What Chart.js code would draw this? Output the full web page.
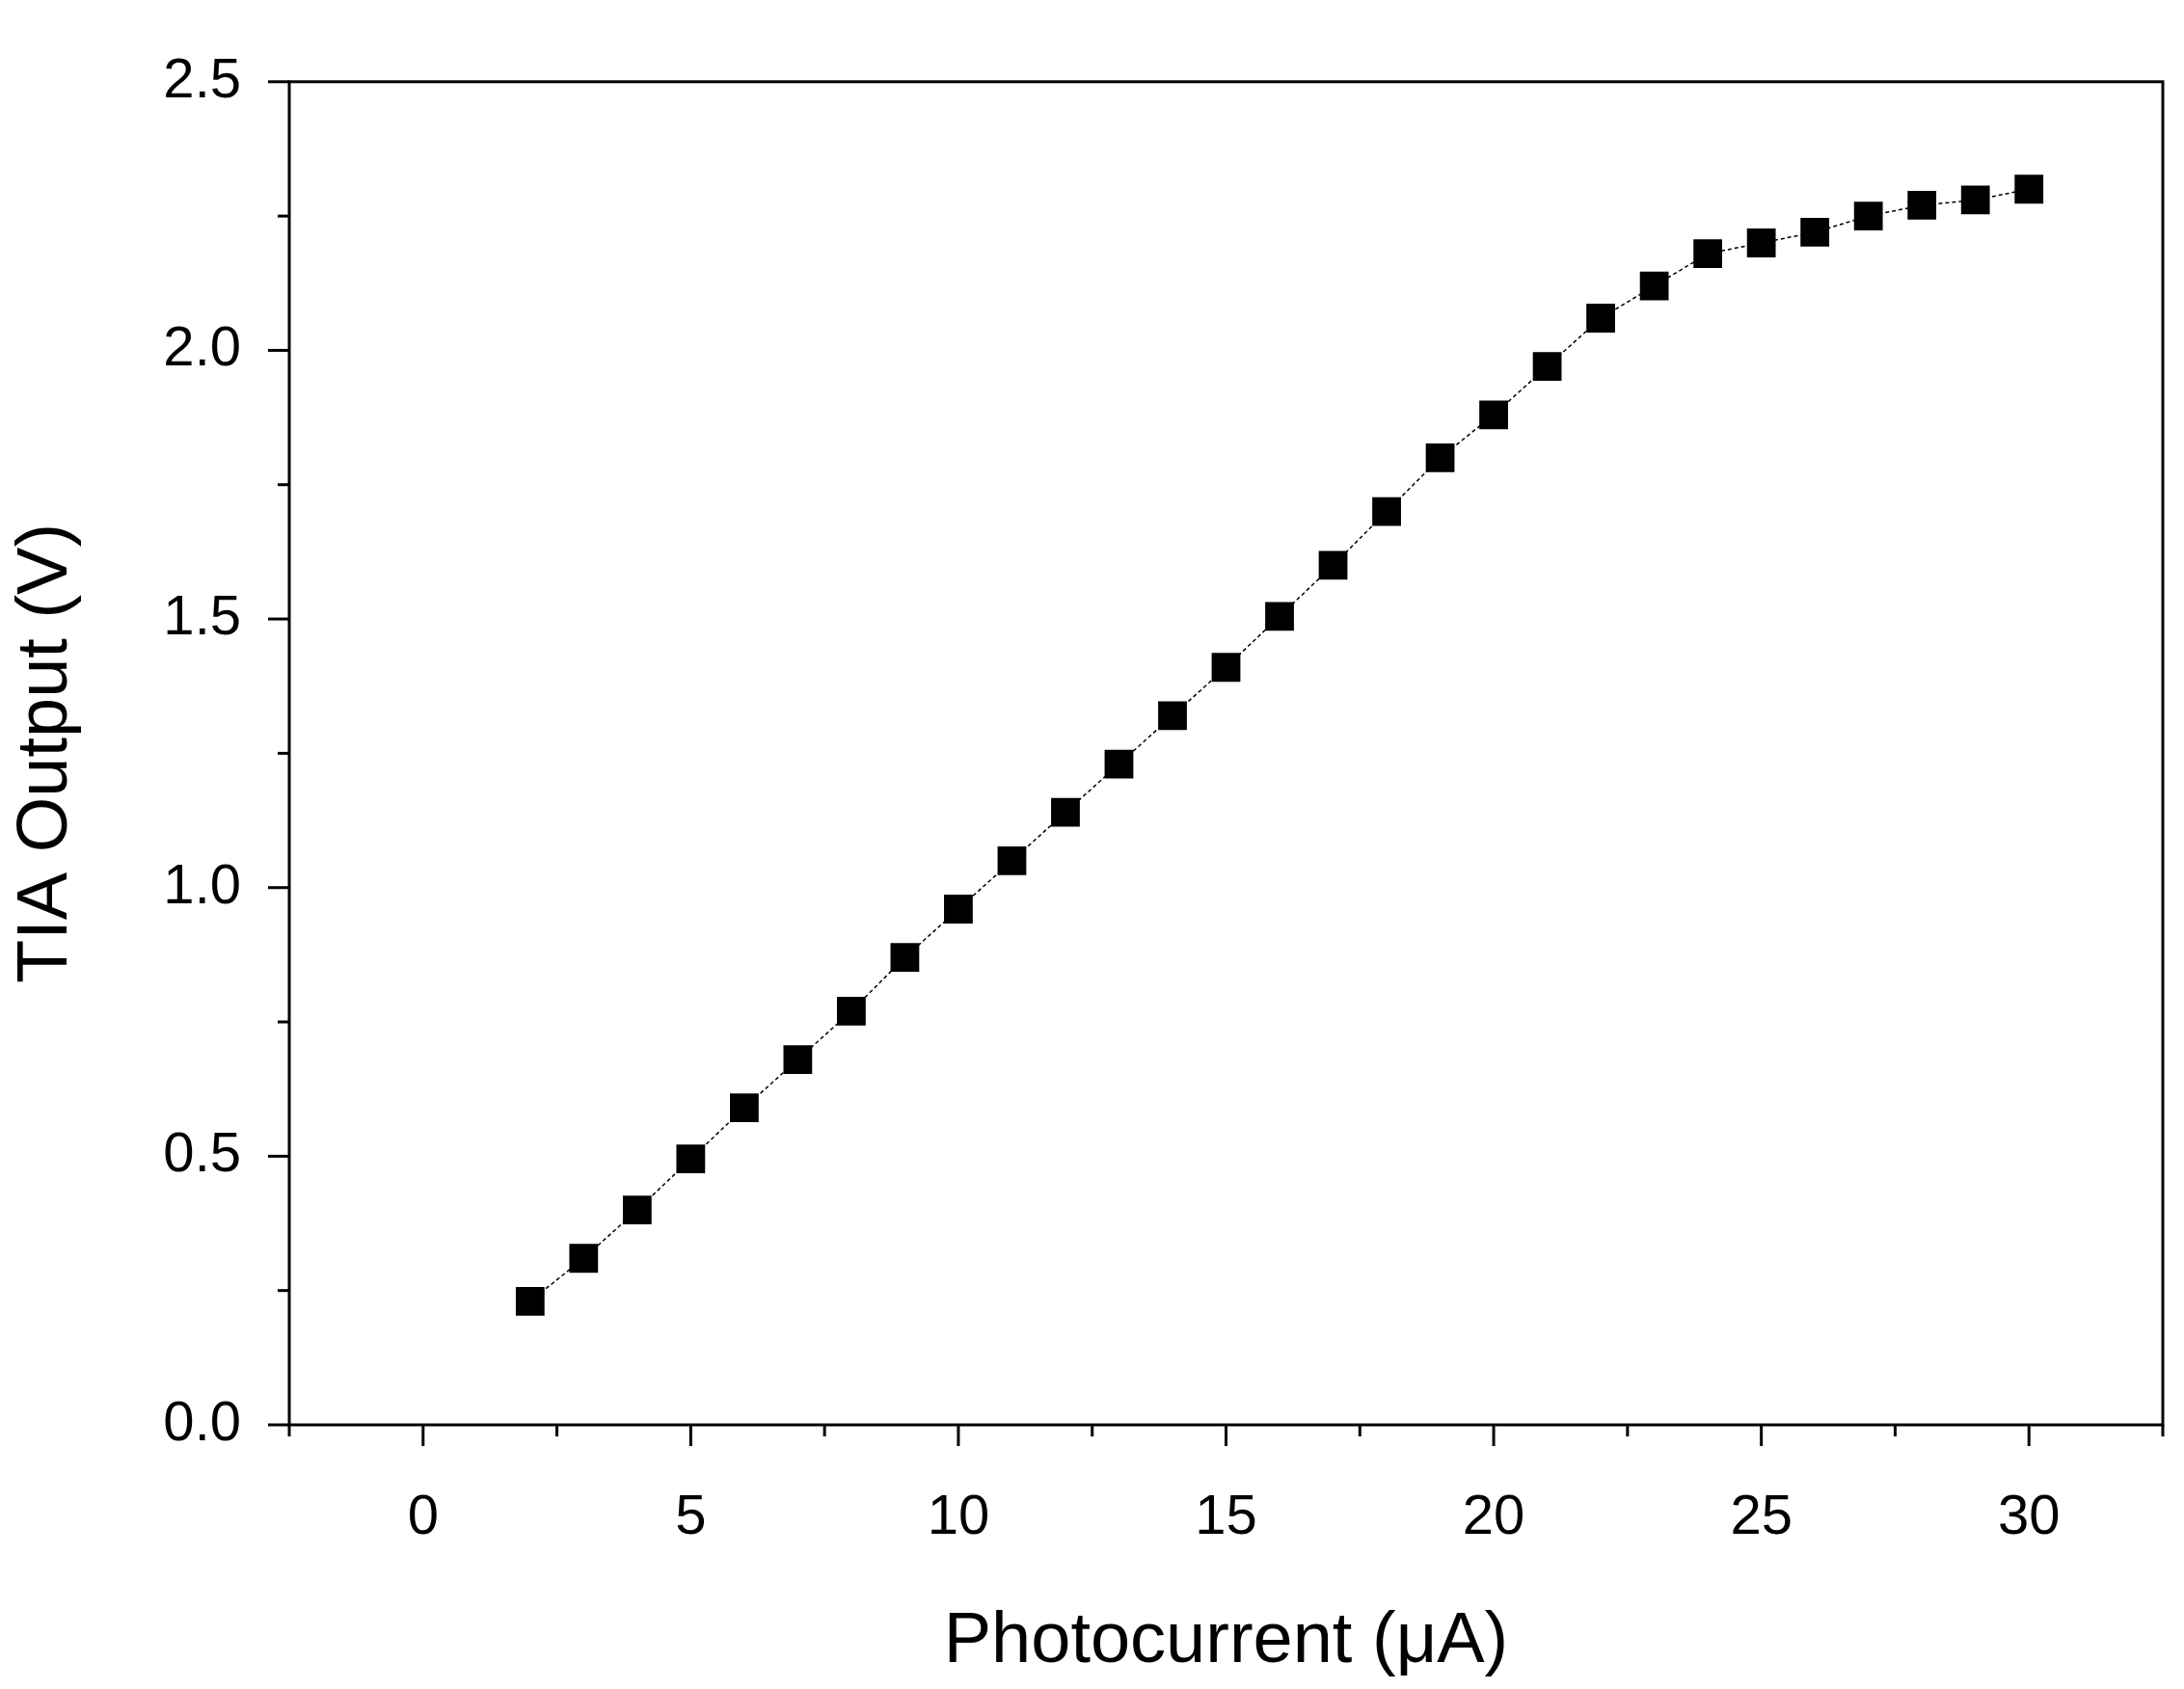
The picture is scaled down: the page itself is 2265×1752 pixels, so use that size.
<!DOCTYPE html>
<html>
<head>
<meta charset="utf-8">
<script src="https://cdn.jsdelivr.net/npm/chart.js@4.4.0/dist/chart.umd.min.js"></script>
<style>
  html, body { margin: 0; padding: 0; background: #fff; }
  #wrap { width: 2265px; height: 1752px; }
</style>
</head>
<body>
<div id="wrap"><canvas id="graphique"></canvas></div>
<script>
// Données
const courants = [2, 3, 4, 5, 6, 7, 8, 9, 10, 11, 12, 13, 14, 15, 16, 17, 18, 19, 20, 21, 22, 23, 24, 25, 26, 27, 28, 29, 30];
const sortiesTIA = [0.23, 0.31, 0.40, 0.495, 0.59, 0.68, 0.77, 0.87, 0.96, 1.05, 1.14, 1.23, 1.32, 1.41, 1.505, 1.60, 1.70, 1.80, 1.88, 1.97, 2.06, 2.12, 2.18, 2.20, 2.22, 2.25, 2.27, 2.28, 2.30];
const ticksX = [0, 5, 10, 15, 20, 25, 30];
const ticksY = [0.0, 0.5, 1.0, 1.5, 2.0, 2.5];

const police = "'Liberation Sans', Arial, sans-serif";

// Graduations majeures et mineures, dessinées vers l'extérieur
const graduations = {
    id: 'graduations',
    afterDraw(chart) {
        const c = chart.ctx, x = chart.scales.x, y = chart.scales.y, a = chart.chartArea;
        c.save();
        c.strokeStyle = '#000';
        c.lineWidth = 3;
        for (let v = -2.5; v <= 32.5 + 1e-6; v += 2.5) {
            const px = x.getPixelForValue(v);
            const len = (Math.abs(v % 5) < 1e-6) ? 22 : 12;
            c.beginPath(); c.moveTo(px, a.bottom); c.lineTo(px, a.bottom + len); c.stroke();
        }
        for (let v = 0; v <= 2.5 + 1e-6; v += 0.25) {
            const py = y.getPixelForValue(v);
            const len = (Math.abs((v * 2) % 1) < 1e-6) ? 22 : 12;
            c.beginPath(); c.moveTo(a.left, py); c.lineTo(a.left - len, py); c.stroke();
        }
        c.lineWidth = 3;
        c.strokeRect(a.left, a.top, a.right - a.left, a.bottom - a.top);
        c.restore();
    }
};

new Chart(document.getElementById('graphique'), {
    type: 'scatter',
    data: {
        datasets: [{
            data: courants.map((v, i) => ({ x: v, y: sortiesTIA[i] })),
            showLine: true,
            borderColor: '#000',
            borderWidth: 1.5,
            borderDash: [4, 3],
            backgroundColor: '#000',
            pointStyle: 'rect',
            pointRadius: 20,
            pointHoverRadius: 20
        }]
    },
    options: {
        responsive: true,
        maintainAspectRatio: false,
        devicePixelRatio: 1,
        animation: false,
        layout: { padding: { top: 46, right: 22, left: 0, bottom: 0 } },
        plugins: { legend: { display: false }, tooltip: { enabled: false } },
        scales: {
            x: {
                min: -2.5, max: 32.5,
                afterBuildTicks: s => { s.ticks = ticksX.map(v => ({ value: v })); },
                afterFit: s => { s.height = 274; },
                grid: { display: false, drawTicks: false },
                border: { display: false },
                ticks: { color: '#000', font: { family: police, size: 58 }, padding: 62, maxRotation: 0 },
                title: { display: true, text: 'Photocurrent (\u03bcA)', color: '#000', font: { family: police, size: 74 }, padding: { top: 30 } }
            },
            y: {
                min: 0, max: 2.5,
                afterBuildTicks: s => { s.ticks = ticksY.map(v => ({ value: v })); },
                afterFit: s => { s.width = 300; },
                grid: { display: false, drawTicks: false },
                border: { display: false },
                ticks: { color: '#000', font: { family: police, size: 58 }, padding: 50, callback: v => v.toFixed(1) },
                title: { display: true, text: 'TIA Output (V)', color: '#000', font: { family: police, size: 74 }, padding: { bottom: 10 } }
            }
        }
    },
    plugins: [graduations]
});
</script>
</body>
</html>
